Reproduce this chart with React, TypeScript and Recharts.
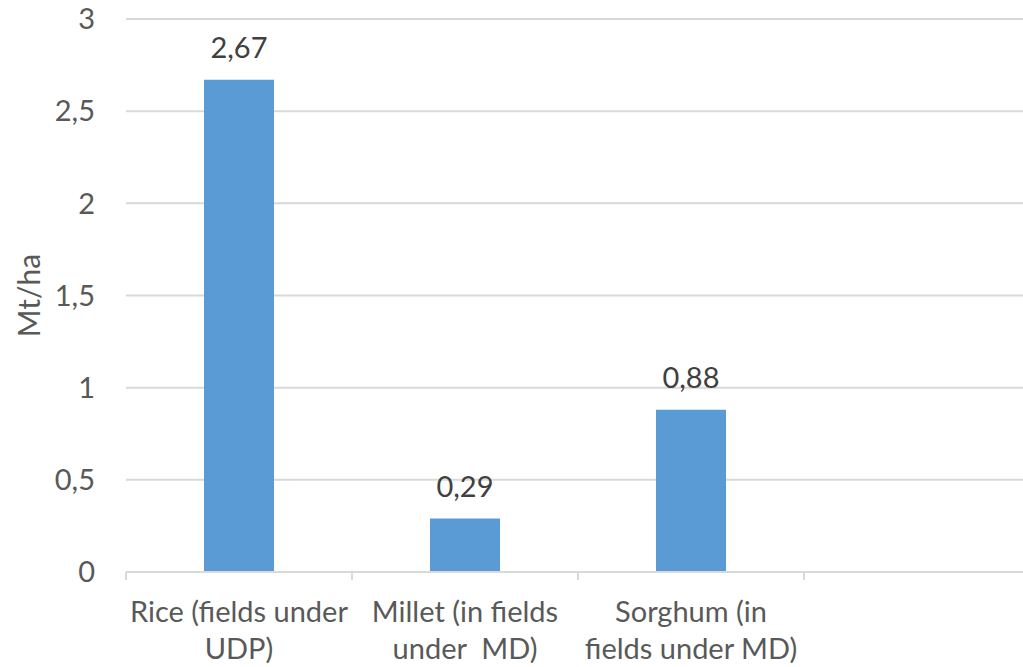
import React from "react";
import { BarChart, Bar, XAxis, YAxis, CartesianGrid, LabelList } from "recharts";

// categories (4th slot is empty in the original sheet)
const categories = [
  "Rice (fields under\nUDP)",
  "Millet (in fields\nunder  MD)",
  "Sorghum (in\nfields under MD)",
  "",
];
const yields: (number | null)[] = [2.67, 0.29, 0.88, null];
const yTicks = [0, 0.5, 1, 1.5, 2, 2.5, 3];

const data = categories.map((name, i) => ({ name, value: yields[i] }));

const W = 1040;
const H = 667;
const LEFT = 126;
const RIGHT_MARGIN = 10;
const BAND = (W - LEFT - RIGHT_MARGIN) / categories.length;

const FONT = "Lato, 'Open Sans', sans-serif";
const AXIS_TEXT = "#595959";
const GRID = "#D9D9D9";

const fmt = (v: number) => String(v).replace(".", ",");

const CategoryTick = (props: any) => {
  const { x, y, payload } = props;
  const lines = String(payload.value).split("\n");
  return (
    <g>
      <line x1={x - BAND / 2} x2={x - BAND / 2} y1={y - 8} y2={y} stroke={GRID} strokeWidth={2} />
      <text
        x={x}
        y={y + 42}
        textAnchor="middle"
        fill={AXIS_TEXT}
        fontFamily={FONT}
        fontSize={29}
        style={{ whiteSpace: "pre" }}
      >
        {lines.map((l, i) => (
          <tspan key={i} x={x} dy={i === 0 ? 0 : 37}>
            {l}
          </tspan>
        ))}
      </text>
    </g>
  );
};

const YTitle = (props: any) => {
  const { viewBox } = props;
  const cy = viewBox.y + viewBox.height / 2;
  return (
    <text
      x={40}
      y={cy}
      transform={`rotate(-90, 40, ${cy})`}
      textAnchor="middle"
      fill={AXIS_TEXT}
      fontFamily={FONT}
      fontSize={30}
    >
      Mt/ha
    </text>
  );
};

export default function App() {
  return (
    <div
      style={{
        position: "fixed",
        left: 0,
        top: 0,
        width: 1023,
        height: 667,
        overflow: "hidden",
        background: "#fff",
      }}
    >
      <BarChart
        width={W}
        height={H}
        data={data}
        margin={{ top: 19, right: RIGHT_MARGIN, left: 0, bottom: 0 }}
      >
        <CartesianGrid vertical={false} stroke={GRID} strokeWidth={2} />
        <XAxis
          dataKey="name"
          height={95}
          axisLine={{ stroke: GRID, strokeWidth: 2 }}
          tickLine={false}
          tick={<CategoryTick />}
          interval={0}
        />
        <YAxis
          width={LEFT}
          domain={[0, 3]}
          ticks={yTicks}
          axisLine={false}
          tickLine={false}
          tickSize={0}
          tickMargin={31}
          tickFormatter={fmt}
          tick={{ fill: AXIS_TEXT, fontFamily: FONT, fontSize: 29 }}
          label={<YTitle />}
        />
        <Bar dataKey="value" fill="#5B9BD5" barSize={70} isAnimationActive={false}>
          <LabelList
            dataKey="value"
            position="top"
            offset={22}
            formatter={(v: any) => (v == null ? "" : fmt(v))}
            fill="#404040"
            fontFamily={FONT}
            fontSize={29}
          />
        </Bar>
      </BarChart>
    </div>
  );
}
